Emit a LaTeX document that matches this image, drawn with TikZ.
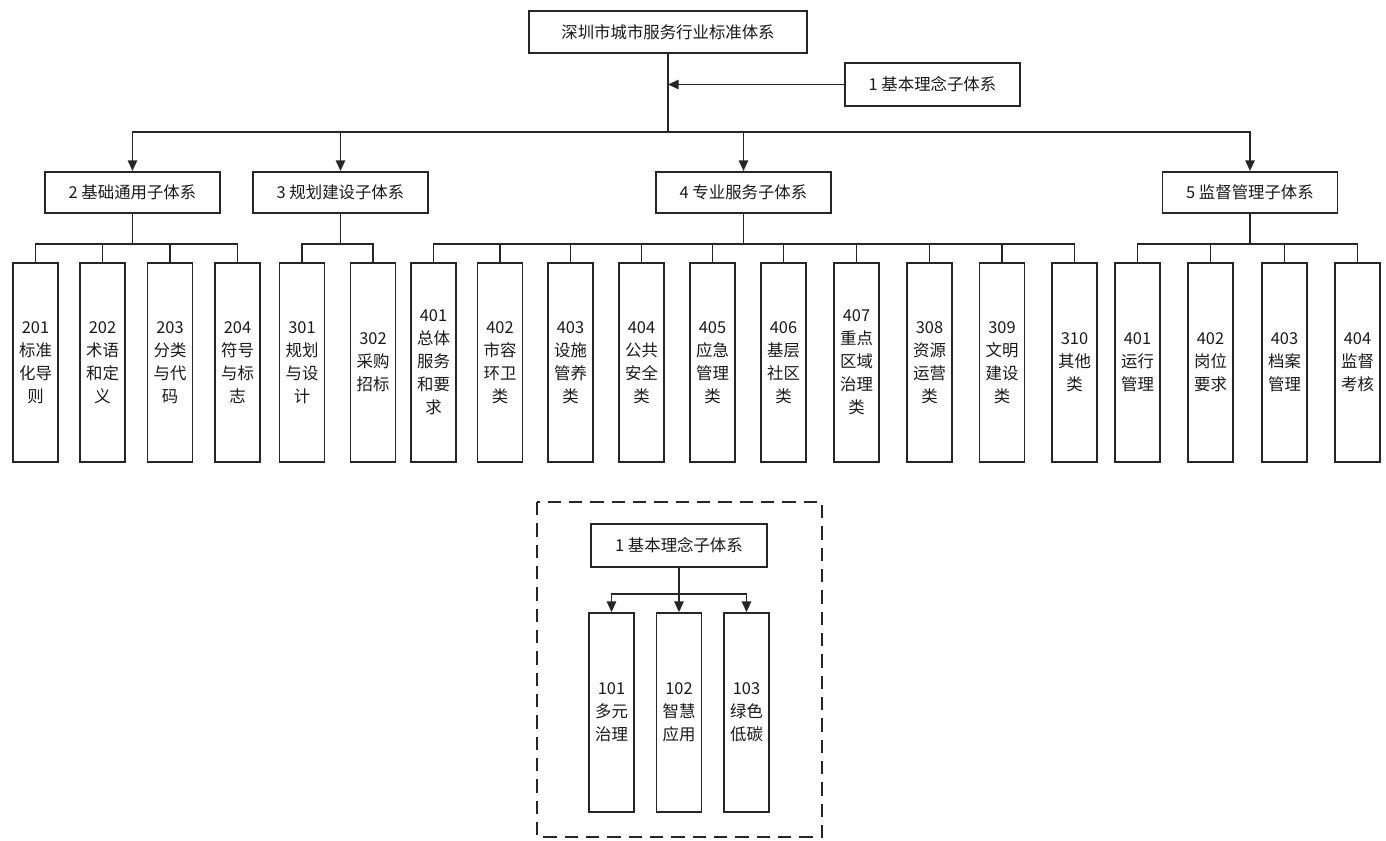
\documentclass[tikz,border=0pt]{standalone}
\usepackage{fontspec}
\newfontfamily\cjk{Noto Sans CJK SC}
\usetikzlibrary{arrows.meta}
\begin{document}
\begin{tikzpicture}[x=0.75pt,y=-0.75pt,
  base/.style={draw=black!85, line width=1.3pt, inner sep=0pt, font=\cjk\fontsize{12.3}{17.25}\selectfont, align=center, text=black!90},
  hbox/.style={base, minimum width=131.25pt, minimum height=31pt},
  leaf/.style={base, minimum width=33.75pt, minimum height=149.25pt},
  conn/.style={draw=black!85, line width=1.3pt},
  arr/.style={conn, -{Triangle[length=8pt,width=7pt]}},
]
\useasboundingbox (0,0) rectangle (1386,840);

% top level
\node[base, minimum width=208.5pt, minimum height=31.5pt] (root) at (668,32) {深圳市城市服务行业标准体系};
\node[hbox, minimum height=32pt] (b1) at (932.5,84.5) {1 基本理念子体系};
\node[hbox] (b2) at (132.5,192.5) {2 基础通用子体系};
\node[hbox] (b3) at (340.5,192.5) {3 规划建设子体系};
\node[hbox] (b4) at (743.5,192.5) {4 专业服务子体系};
\node[hbox] (b5) at (1250,192.5) {5 监督管理子体系};

\coordinate (jt) at (668,132);
\coordinate (ja) at (668,84.5);
\draw[conn] (root.south) -- (jt);
\draw[arr] (b1.west) -- (ja);
\draw[arr] (jt) -| (b2.north);
\draw[arr] (jt) -| (b3.north);
\draw[arr] (jt) -| (b4.north);
\draw[arr] (jt) -| (b5.north);

% leaves
\node[leaf] (l201) at (35.5,362.5) {201\\标准\\化导\\则};
\node[leaf] (l202) at (102.5,362.5) {202\\术语\\和定\\义};
\node[leaf] (l203) at (170,362.5) {203\\分类\\与代\\码};
\node[leaf] (l204) at (237.5,362.5) {204\\符号\\与标\\志};
\node[leaf] (l301) at (302,362.5) {301\\规划\\与设\\计};
\node[leaf] (l302) at (373,362.5) {302\\采购\\招标};
\node[leaf] (l401) at (433.5,362.5) {401\\总体\\服务\\和要\\求};
\node[leaf] (l402) at (500,362.5) {402\\市容\\环卫\\类};
\node[leaf] (l403) at (570.5,362.5) {403\\设施\\管养\\类};
\node[leaf] (l404) at (641.5,362.5) {404\\公共\\安全\\类};
\node[leaf] (l405) at (712.5,362.5) {405\\应急\\管理\\类};
\node[leaf] (l406) at (783.5,362.5) {406\\基层\\社区\\类};
\node[leaf] (l407) at (856.5,362.5) {407\\重点\\区域\\治理\\类};
\node[leaf] (l308) at (929.5,362.5) {308\\资源\\运营\\类};
\node[leaf] (l309) at (1002,362.5) {309\\文明\\建设\\类};
\node[leaf] (l310) at (1074.5,362.5) {310\\其他\\类};
\node[leaf] (m401) at (1137.5,362.5) {401\\运行\\管理};
\node[leaf] (m402) at (1210.5,362.5) {402\\岗位\\要求};
\node[leaf] (m403) at (1284.5,362.5) {403\\档案\\管理};
\node[leaf] (m404) at (1357.5,362.5) {404\\监督\\考核};

\coordinate (j2) at (132.5,244);
\coordinate (j3) at (340.5,244);
\coordinate (j4) at (743.5,244);
\coordinate (j5) at (1250,244);
\draw[conn] (b2.south) -- (j2);
\draw[conn] (b3.south) -- (j3);
\draw[conn] (b4.south) -- (j4);
\draw[conn] (b5.south) -- (j5);

\draw[conn] (l201.north) |- (j2) -| (l204.north);
\draw[conn] (l202.north) -- (l202.north |- j2);
\draw[conn] (l203.north) -- (l203.north |- j2);

\draw[conn] (l301.north) |- (j3) -| (l302.north);

\draw[conn] (l401.north) |- (j4) -| (l310.north);
\foreach \n in {l402,l403,l404,l405,l406,l407,l308,l309}
  \draw[conn] (\n.north) -- (\n.north |- j4);

\draw[conn] (m401.north) |- (j5) -| (m404.north);
\draw[conn] (m402.north) -- (m402.north |- j5);
\draw[conn] (m403.north) -- (m403.north |- j5);

% dashed detail
\draw[conn, dash pattern=on 10pt off 6pt] (537,502) rectangle (822,837);
\node[base, minimum width=132pt, minimum height=32.25pt] (ib) at (679,545.5) {1 基本理念子体系};
\node[leaf] (k101) at (611.5,712.5) {101\\多元\\治理};
\node[leaf] (k102) at (679,712.5) {102\\智慧\\应用};
\node[leaf] (k103) at (746.5,712.5) {103\\绿色\\低碳};
\coordinate (jb) at (679,594);
\draw[conn] (ib.south) -- (jb);
\draw[arr] (jb) -| (k101.north);
\draw[arr] (jb) -- (k102.north);
\draw[arr] (jb) -| (k103.north);
\end{tikzpicture}
\end{document}
